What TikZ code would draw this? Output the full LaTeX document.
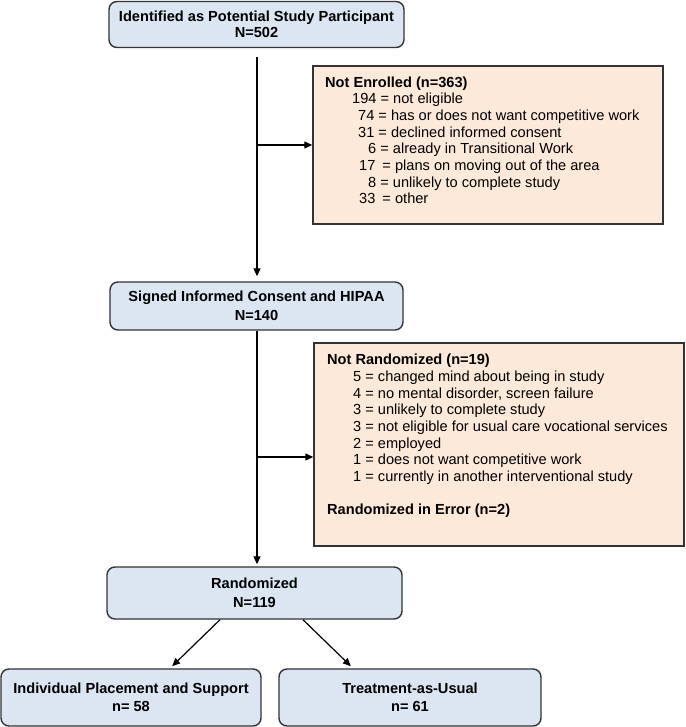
\documentclass[tikz,border=0pt]{standalone}
\usepackage{fontspec}
\setmainfont{Liberation Sans}
\usetikzlibrary{arrows.meta,calc}
\definecolor{bluefill}{HTML}{DCE6F2}
\definecolor{orangefill}{HTML}{FDE9D9}
\definecolor{edgegray}{HTML}{333333}
\tikzset{
  bluebox/.style={draw=edgegray, line width=1.4pt, fill=bluefill, rounded corners=8pt,
    align=center, inner sep=0pt, font=\bfseries\fontsize{14.6}{18.5}\selectfont},
  orangebox/.style={draw=edgegray, line width=1.4pt, fill=orangefill, inner sep=0pt},
  listtext/.style={anchor=north west, align=left, inner sep=0pt,
    font=\fontsize{14.6}{16.65}\selectfont},
  arr/.style={-{Triangle[length=8pt,width=7pt]}, line width=1.2pt, black}
}
\begin{document}
\begin{tikzpicture}[x=1pt,y=-1pt]
\useasboundingbox (0,0) rectangle (685,727);

% main boxes
\node[bluebox, minimum width=295pt, minimum height=46pt,
  font=\bfseries\fontsize{14.6}{15.5}\selectfont] (ident) at (256.5,24.5)
  {Identified as Potential Study Participant\\N=502};
\node[bluebox, minimum width=293pt, minimum height=48pt] (signed) at (256.5,306)
  {Signed Informed Consent and HIPAA\\N=140};
\node[bluebox, minimum width=295pt, minimum height=52pt] (rand) at (254.5,593)
  {Randomized\\N=119};
\node[bluebox, minimum width=260pt, minimum height=57pt] (ips) at (131,697.5)
  {Individual Placement and Support\\n= 58};
\node[bluebox, minimum width=262pt, minimum height=57pt] (tau) at (410,697.5)
  {Treatment-as-Usual\\n= 61};

% exclusion boxes
\node[orangebox, minimum width=350pt, minimum height=158pt] (notenr) at (488,145) {};
\node[listtext] (notenrtext) at (325,76.5)
  {\textbf{Not Enrolled (n=363)}\\
   \hspace*{27pt}194 = not eligible\\
   \hspace*{33pt}74 = has or does not want competitive work\\
   \hspace*{33pt}31 = declined informed consent\\
   \hspace*{43pt}6 = already in Transitional Work\\
   \hspace*{34pt}17\hspace{3pt} = plans on moving out of the area\\
   \hspace*{43pt}8 = unlikely to complete study\\
   \hspace*{34pt}33\hspace{3pt} = other};

\node[orangebox, minimum width=370pt, minimum height=203pt] (notrand) at (499,444.5) {};
\node[listtext] (notrandtext) at (327,354)
  {\textbf{Not Randomized (n=19)}\\
   \hspace*{26pt}5 = changed mind about being in study\\
   \hspace*{26pt}4 = no mental disorder, screen failure\\
   \hspace*{26pt}3 = unlikely to complete study\\
   \hspace*{26pt}3 = not eligible for usual care vocational services\\
   \hspace*{26pt}2 = employed\\
   \hspace*{26pt}1 = does not want competitive work\\
   \hspace*{26pt}1 = currently in another interventional study\\
   \mbox{}\\
   \textbf{Randomized in Error (n=2)}};

% connectors
\coordinate (c1) at (257,57);
\coordinate (c2) at (257,457);
\draw[arr, shorten >=5pt] (c1) -- (c1 |- signed.north);
\draw[arr] (c1 |- notenr.west) -- (notenr.west);
\draw[arr, shorten >=2pt] (signed.south -| c1) -- (c1 |- rand.north);
\draw[arr] (c2) -- (c2 -| notrand.west);
\draw[arr, shorten >=3pt] ($(rand.south)+(-34.5,0)$) -- ($(ips.north)+(39,0)$);
\draw[arr, shorten >=3pt] ($(rand.south)+(48.5,0)$) -- ($(tau.north)+(-57,0)$);
\end{tikzpicture}
\end{document}
